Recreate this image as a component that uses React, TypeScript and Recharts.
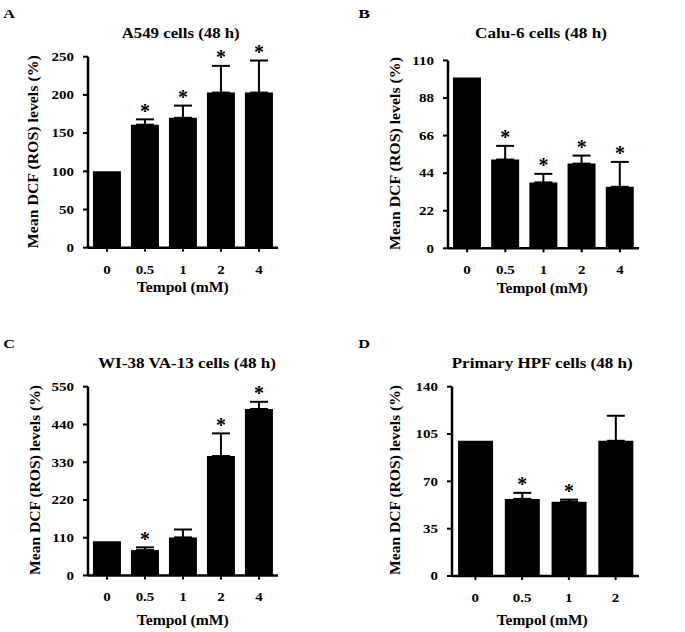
import React from "react";
import { ComposedChart, Bar, Line, ErrorBar, XAxis, YAxis } from "recharts";

// doses (mM)
const dosesFive = ["0", "0.5", "1", "2", "4"];
const dosesFour = ["0", "0.5", "1", "2"];

// A549
const a549Mean = [100, 161, 170, 203, 203];
const a549Err = [0, 7, 16, 35, 42];
const a549Sig = [false, true, true, true, true];
const a549Ticks = [0, 50, 100, 150, 200, 250];

// Calu-6
const calu6Mean = [100, 52, 38.6, 49.6, 36];
const calu6Err = [0, 8, 5, 4.7, 14.6];
const calu6Sig = [false, true, true, true, true];
const calu6Ticks = [0, 22, 44, 66, 88, 110];

// WI-38 VA-13
const wi38Mean = [100, 74, 111, 348, 485];
const wi38Err = [0, 8, 23, 66, 21];
const wi38Sig = [false, true, false, true, true];
const wi38Ticks = [0, 110, 220, 330, 440, 550];

// Primary HPF
const hpfMean = [100, 57, 55, 100];
const hpfErr = [0, 4.5, 1.5, 18.5];
const hpfSig = [false, true, true, false];
const hpfTicks = [0, 35, 70, 105, 140];

const FONT = "'Liberation Serif', 'Times New Roman', serif";

type Row = { dose: string; mean: number; err: [number, number] | null; star: number | null };

function buildRows(doses: string[], mean: number[], err: number[], sig: boolean[]): Row[] {
  return doses.map((d, i) => ({
    dose: d,
    mean: mean[i],
    err: err[i] > 0 ? [0, err[i]] : null,
    star: sig[i] ? mean[i] + err[i] : null,
  }));
}

const YTick = (props: any) => {
  const { x, y, payload } = props;
  return (
    <g transform={`translate(${x},${y})`}>
      <text
        textAnchor="end"
        dy={4.3}
        transform="scale(1.2,1)"
        fontFamily={FONT}
        fontWeight="bold"
        fontSize={12.5}
        fill="#000"
      >
        {payload.value}
      </text>
    </g>
  );
};

const XTick = (props: any) => {
  const { x, y, payload } = props;
  return (
    <g transform={`translate(${x},${y})`}>
      <text
        textAnchor="middle"
        dy={20}
        transform="scale(1.2,1)"
        fontFamily={FONT}
        fontWeight="bold"
        fontSize={12.5}
        fill="#000"
      >
        {payload.value}
      </text>
    </g>
  );
};

const StarDot = (props: any) => {
  const { cx, cy, value, index } = props;
  if (value == null || cy == null || Number.isNaN(cy)) return <g key={`s${index}`} />;
  return (
    <text
      key={`s${index}`}
      x={cx}
      y={cy - 1.5}
      textAnchor="middle"
      fontFamily={FONT}
      fontWeight="bold"
      fontSize={20}
      fill="#000"
    >
      *
    </text>
  );
};

type PanelProps = {
  rows: Row[];
  ticks: number[];
  box: [number, number, number, number];
  left: number;
  right: number;
  top: number;
  zero: number;
};

function Panel({ rows, ticks, box, left, right, top, zero }: PanelProps) {
  const [ox, oy, w, h] = box;
  const xAxisH = 30;
  return (
    <div style={{ position: "absolute", left: ox, top: oy, width: w, height: h }}>
      <ComposedChart
        width={w}
        height={h}
        data={rows}
        barCategoryGap="13%"
        margin={{ top: top - oy, right: ox + w - right, bottom: oy + h - zero - xAxisH, left: 0 }}
      >
        <XAxis
          dataKey="dose"
          height={xAxisH}
          axisLine={{ stroke: "#000", strokeWidth: 2.5 }}
          tickLine={{ stroke: "#000", strokeWidth: 2 }}
          tickSize={4}
          tickMargin={2}
          tick={<XTick />}
          interval={0}
        />
        <YAxis
          type="number"
          width={left - ox}
          domain={[0, ticks[ticks.length - 1]]}
          ticks={ticks}
          interval={0}
          axisLine={{ stroke: "#000", strokeWidth: 2.5 }}
          tickLine={{ stroke: "#000", strokeWidth: 2 }}
          tickSize={5}
          tickMargin={9}
          tick={<YTick />}
        />
        <Bar dataKey="mean" fill="#000" isAnimationActive={false}>
          <ErrorBar dataKey="err" width={9} strokeWidth={2} stroke="#000" direction="y" />
        </Bar>
        <Line
          dataKey="star"
          stroke="none"
          isAnimationActive={false}
          dot={<StarDot />}
          activeDot={false}
          legendType="none"
        />
      </ComposedChart>
    </div>
  );
}

const labels = [
  { letter: "A", lx: 3.3, ly: 18.3, title: "A549 cells (48 h)", tx: 121.7, ty: 38.3, tl: 118, yx: 37.7, yy: 151.7, yl: 193, xx: 136.7, xy: 292, xl: 92 },
  { letter: "B", lx: 358.3, ly: 18.3, title: "Calu-6 cells (48 h)", tx: 475, ty: 37.8, tl: 132, yx: 400.3, yy: 153.5, yl: 193, xx: 496.7, xy: 293, xl: 91 },
  { letter: "C", lx: 3.3, ly: 348.3, title: "WI-38 VA-13 cells (48 h)", tx: 98, ty: 367.8, tl: 178, yx: 40, yy: 480, yl: 190, xx: 136.7, xy: 625, xl: 92 },
  { letter: "D", lx: 358.3, ly: 348.3, title: "Primary HPF cells (48 h)", tx: 451.7, ty: 367.8, tl: 181, yx: 400.3, yy: 480, yl: 190, xx: 496.7, xy: 625, xl: 91 },
];

export default function App() {
  const txt = { fontFamily: FONT, fontWeight: "bold" as const, fill: "#000" };
  return (
    <div style={{ position: "absolute", left: 0, top: 0, width: 685, height: 632, background: "#fff" }}>
      <Panel rows={buildRows(dosesFive, a549Mean, a549Err, a549Sig)} ticks={a549Ticks} box={[0, 0, 342, 316]} left={88} right={278} top={56.7} zero={247.7} />
      <Panel rows={buildRows(dosesFive, calu6Mean, calu6Err, calu6Sig)} ticks={calu6Ticks} box={[342, 0, 343, 316]} left={448} right={639} top={60.5} zero={248.3} />
      <Panel rows={buildRows(dosesFive, wi38Mean, wi38Err, wi38Sig)} ticks={wi38Ticks} box={[0, 316, 342, 316]} left={88} right={278} top={386.7} zero={575.5} />
      <Panel rows={buildRows(dosesFour, hpfMean, hpfErr, hpfSig)} ticks={hpfTicks} box={[342, 316, 343, 316]} left={452} right={639} top={386.7} zero={576} />
      <svg width={685} height={632} style={{ position: "absolute", left: 0, top: 0, pointerEvents: "none" }}>
        {labels.map((l) => (
          <g key={l.letter}>
            <text x={l.lx} y={l.ly} fontSize={13} textLength={11.7} lengthAdjust="spacingAndGlyphs" {...txt}>
              {l.letter}
            </text>
            <text x={l.tx} y={l.ty} fontSize={14} textLength={l.tl} lengthAdjust="spacingAndGlyphs" {...txt}>
              {l.title}
            </text>
            <text
              transform={`translate(${l.yx},${l.yy}) rotate(-90)`}
              x={-l.yl / 2}
              y={0}
              fontSize={15}
              textLength={l.yl}
              lengthAdjust="spacingAndGlyphs"
              {...txt}
            >
              Mean DCF (ROS) levels (%)
            </text>
            <text x={l.xx} y={l.xy} fontSize={14} textLength={l.xl} lengthAdjust="spacingAndGlyphs" {...txt}>
              Tempol (mM)
            </text>
          </g>
        ))}
      </svg>
    </div>
  );
}
